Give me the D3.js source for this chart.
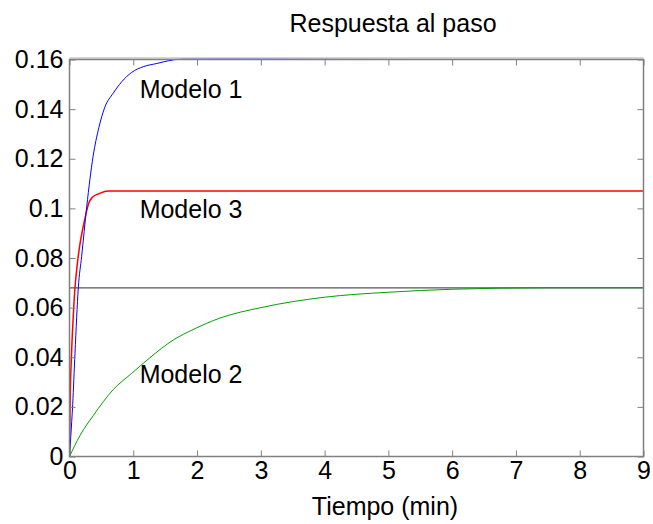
<!DOCTYPE html>
<html><head><meta charset="utf-8">
<script src="https://cdn.jsdelivr.net/npm/d3@7"></script>
<style>body{margin:0;background:#fff}svg{display:block}text{font-family:"Liberation Sans",Arial,sans-serif;fill:#000}</style>
</head><body>
<svg id="c" width="653" height="524"></svg>
<script>
const xTicks = [0,1,2,3,4,5,6,7,8,9];
const yTicks = [0,0.02,0.04,0.06,0.08,0.1,0.12,0.14,0.16];
const yTickLabels = ["0","0.02","0.04","0.06","0.08","0.1","0.12","0.14","0.16"];
const model1T = [0,0.02,0.05,0.086,0.138,0.19,0.27,0.37,0.46,0.55,0.687,0.818,0.975,1.157,1.37,1.575,1.8,9];
const model1Y = [0,0.008,0.021,0.0416,0.068,0.0805,0.1007,0.121,0.1325,0.1405,0.1465,0.151,0.1548,0.1571,0.1584,0.1596,0.1603,0.161];
const model2T = [0,0.165,0.373,0.687,0.975,1.26,1.63,1.94,2.36,3,4,5,6,7.5,9];
const model2Y = [0,0.0085,0.0165,0.027,0.0335,0.0398,0.047,0.0512,0.0558,0.0600,0.0642,0.0662,0.0674,0.068,0.068];
const model3T = [0,0.01,0.03,0.06,0.086,0.12,0.16,0.21,0.26,0.3,0.36,0.47,0.6,9];
const model3Y = [0,0.022,0.04,0.057,0.068,0.077,0.085,0.092,0.098,0.102,0.1045,0.106,0.107,0.107];
const refLevel = 0.068;
const labels = [{t:"Modelo 1",x:1.1,y:0.1479},{t:"Modelo 3",x:1.1,y:0.0995},{t:"Modelo 2",x:1.1,y:0.033}];

const svg = d3.select("#c");
const L=69.5,R=643.5,T=59.5,B=456.5;
const x = d3.scaleLinear().domain([0,9]).range([L,R]);
const y = d3.scaleLinear().domain([0,0.16]).range([B,T]);
const ax="#808080";
const fs=25;

svg.append("defs").append("clipPath").attr("id","cp").append("rect").attr("x",L).attr("y",T-1).attr("width",R-L).attr("height",B-T+1);

const g = svg.append("g").attr("clip-path","url(#cp)");
g.append("line").attr("x1",x(0)).attr("x2",x(9)).attr("y1",y(refLevel)).attr("y2",y(refLevel)).attr("stroke","#555").attr("stroke-width",1.2);
const line = d3.line().curve(d3.curveMonotoneX);
function draw(ts,ys,col,w){g.append("path").attr("d",line(ts.map((t,i)=>[x(t),y(ys[i])]))).attr("fill","none").attr("stroke",col).attr("stroke-width",w);}
draw(model2T,model2Y,"#00a000",1);
draw(model3T,model3Y,"#ff0000",1.5);
draw(model1T,model1Y,"#0000ff",1);

const tl=6;
svg.append("g").attr("transform",`translate(0,${B})`).call(d3.axisBottom(x).tickValues(xTicks).tickSizeInner(-tl).tickSizeOuter(0).tickPadding(5).tickFormat(d3.format("d")))
 .call(s=>{s.select(".domain").remove();s.selectAll("line").attr("stroke",ax);s.selectAll("text").attr("font-size",fs).attr("fill","#000");});
svg.append("g").attr("transform",`translate(0,${T})`).call(d3.axisTop(x).tickValues(xTicks).tickSizeInner(-tl).tickSizeOuter(0).tickFormat(""))
 .call(s=>{s.select(".domain").remove();s.selectAll("line").attr("stroke",ax);});
svg.append("g").attr("transform",`translate(${L},0)`).call(d3.axisLeft(y).tickValues(yTicks).tickSizeInner(-tl).tickSizeOuter(0).tickPadding(6).tickFormat((d,i)=>yTickLabels[i]))
 .call(s=>{s.select(".domain").remove();s.selectAll("line").attr("stroke",ax);s.selectAll("text").attr("font-size",fs).attr("fill","#000");});
svg.append("g").attr("transform",`translate(${R},0)`).call(d3.axisRight(y).tickValues(yTicks).tickSizeInner(-tl).tickSizeOuter(0).tickFormat(""))
 .call(s=>{s.select(".domain").remove();s.selectAll("line").attr("stroke",ax);});
svg.append("rect").attr("x",L).attr("y",T).attr("width",R-L).attr("height",B-T).attr("fill","none").attr("stroke",ax).attr("stroke-width",1.5);
svg.append("line").attr("x1",L).attr("x2",R).attr("y1",T-1.5).attr("y2",T-1.5).attr("stroke","#aaa").attr("stroke-width",1);

labels.forEach(l=>svg.append("text").attr("x",x(l.x)).attr("y",y(l.y)).attr("dy","0.35em").attr("font-size",fs).text(l.t));
svg.append("text").attr("x",393).attr("y",31.5).attr("text-anchor","middle").attr("font-size",fs).text("Respuesta al paso");
svg.append("text").attr("x",385).attr("y",515).attr("text-anchor","middle").attr("font-size",fs).text("Tiempo (min)");
</script>
</body></html>
